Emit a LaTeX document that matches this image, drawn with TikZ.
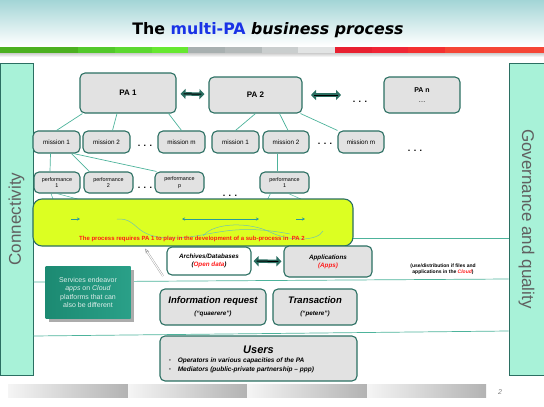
\documentclass[tikz,border=0pt]{standalone}
\usepackage{fontspec}
\setmainfont{Liberation Sans}
\newfontfamily\titlefont{DejaVu Sans}
\usetikzlibrary{arrows.meta,calc}

\definecolor{edgeteal}{HTML}{2B6F62}
\definecolor{linkteal}{HTML}{4DB39B}
\definecolor{boxgrey}{HTML}{E2E2E2}
\definecolor{mint}{HTML}{A8F2D8}
\definecolor{lime}{HTML}{DCFF22}
\definecolor{headtop}{HTML}{A3D5D6}
\definecolor{titleblue}{HTML}{1A33E6}
\definecolor{hotred}{HTML}{FF1A1A}
\definecolor{callteal}{HTML}{1C8A72}
\definecolor{callteallt}{HTML}{2AA088}
\definecolor{arrteal}{HTML}{2A9A9A}

\tikzset{
  pabox/.style = {draw=edgeteal, line width=1.1pt, rounded corners=5pt, fill=boxgrey, inner sep=1pt, align=center},
  smallbox/.style = {pabox, minimum width=47, minimum height=22, font=\fontsize{6.3}{7}\selectfont},
  perfbox/.style = {pabox, minimum height=21, font=\fontsize{5.4}{6.5}\selectfont},
  sidebar/.style = {draw=edgeteal, line width=1pt, fill=mint, text=gray!75!black, font=\fontsize{17}{20}\selectfont},
  link/.style = {linkteal, line width=0.7pt},
  dblarr/.style = {edgeteal, line width=3.5pt, {Triangle[width=10pt,length=5pt]}-{Triangle[width=10pt,length=5pt]}, shorten <=4pt, shorten >=4pt},
  dblcore/.style = {black, line width=1pt, shorten <=7pt, shorten >=7pt},
  dots/.style = {font=\bfseries\fontsize{9}{9}\selectfont}
}

\begin{document}
\begin{tikzpicture}[x=1pt, y=1pt]
    \useasboundingbox (0,0) rectangle (544,-407);

    % header
    \shade[top color=headtop, bottom color=white] (0,0) rectangle (544,-46);
    \node (title) at (268,-30) {\titlefont\bfseries\fontsize{15.8}{18}\selectfont The \textcolor{titleblue}{multi-PA} \textit{business process}};
    \foreach \xa/\xb/\col in {0/78/4CB020, 78/115/52C82A, 115/152/5CD830, 152/188/66E830,
                              188/225/A8B0B0, 225/262/B4BABA, 262/298/CACECE, 298/335/E2E4E4,
                              335/372/E82030, 372/408/F02535, 408/445/F43030, 445/544/F54535}
    {
        \definecolor{barcol}{HTML}{\col}
        \fill[barcol] (\xa,-47) rectangle (\xb,-53);
    }
    \shade[top color=gray!40, bottom color=white] (0,-53) rectangle (544,-57);

    % side bars
    \node[sidebar, rotate=90, minimum width=312, minimum height=33] (conn) at (16.5,-219) {Connectivity};
    \node[sidebar, rotate=-90, minimum width=312, minimum height=35] (gov) at (526.5,-219) {Governance and quality};

    % separators
    \coordinate (sepa) at (353,-238);
    \draw[link] (sepa) -- (sepa -| gov.south);
    \draw[link] ($(conn.south)+(0,-63)$) -- ($(gov.south)+(0,-60)$);
    \draw[link] ($(conn.south)+(0,-117)$) -- ($(gov.south)+(0,-112)$);

    % PA row
    \node[pabox, minimum width=96, minimum height=40, font=\bfseries\fontsize{8}{9}\selectfont] (pa1) at (128,-93) {PA 1};
    \node[pabox, minimum width=93, minimum height=36, font=\bfseries\fontsize{8}{9}\selectfont] (pa2) at (255.5,-95) {PA 2};
    \node[pabox, minimum width=76, minimum height=36, font=\bfseries\fontsize{7}{12}\selectfont] (pan) at (422,-95) {PA n\\[-2pt]\mdseries\dots};
    \node[dots] at (360,-102) {. . .};
    \draw[dblarr] (pa1) -- (pa2);
    \draw[dblcore] (pa1) -- (pa2);
    \coordinate (gapa) at (311,-95);
    \coordinate (gapb) at (341,-95);
    \draw[dblarr, shorten <=0pt, shorten >=0pt] (gapa) -- (gapb);
    \draw[dblcore, shorten <=3pt, shorten >=3pt] (gapa) -- (gapb);

    % missions
    \node[smallbox] (m11) at (56.5,-142) {mission 1};
    \node[smallbox] (m12) at (106.5,-142) {mission 2};
    \node[smallbox] (m1m) at (181.5,-142) {mission m};
    \node[smallbox] (m21) at (235.5,-142) {mission 1};
    \node[smallbox, minimum width=46] (m22) at (286,-142) {mission 2};
    \node[smallbox, minimum width=46] (m2m) at (361,-142) {mission m};
    \node[dots] at (145,-146) {. . .};
    \node[dots] at (325,-144) {. . .};
    \node[dots] at (415,-151) {. . .};

    \draw[link] (m11.north) -- ($(pa1.south west)+(3,0)$);
    \draw[link] ($(m12.north)+(6,0)$) -- ($(pa1.south)+(-11,0)$);
    \draw[link] (m1m.north) -- ($(pa1.south east)+(-8,0)$);
    \draw[link] (m21.north) -- (pa2.south);
    \draw[link] ($(m22.north)+(2,0)$) -- ($(pa2.south)+(24,0)$);
    \draw[link] (m2m.north west) -- ($(pa2.south east)+(-2,0)$);

    % performances
    \node[perfbox, minimum width=46] (p11) at (57,-182.5) {performance\\1};
    \node[perfbox, minimum width=49] (p12) at (108.5,-182.5) {performance\\2};
    \node[perfbox, minimum width=49] (p1p) at (179.5,-182.5) {performance\\p};
    \node[perfbox, minimum width=49] (p21) at (284.5,-182.5) {performance\\1};
    \node[dots] at (145,-188) {. . .};
    \node[dots] at (230,-196) {. . .};

    \draw[link] ($(m11.south)+(-6,0)$) -- ($(p11.north)+(-7,0)$);
    \draw[link] ($(m11.south)+(15,0)$) -- ($(p12.north west)+(6,0)$);
    \draw[link] ($(m11.south)+(17,0)$) -- ($(p1p.north west)+(2,0)$);
    \draw[link] ($(m22.south)+(-9,0)$) -- ($(p21.north)+(-7.5,0)$);
    \draw[link, line width=0.5pt] ($(p11.south)+(-6,0)$) -- ++(3,-8);
    \draw[link, line width=0.5pt] ($(p11.south)+(0,0)$) -- ++(30,-8);
    \draw[link, line width=0.5pt] ($(p21.south)+(-14,0)$) -- ++(-4,-8);
    \draw[link, line width=0.5pt] ($(p21.south)+(4,0)$) -- ++(18,-8);

    % process box
    \node[pabox, fill=lime, rounded corners=9pt, minimum width=320, minimum height=47] (proc) at (193,-222.5) {};
    \draw[arrteal, line width=0.6pt, -{Stealth[length=3pt,width=3pt]}] (71,-219) -- (80,-219);
    \draw[arrteal, line width=0.6pt, {Stealth[length=3pt,width=3pt]}-{Stealth[length=3pt,width=3pt]}] (182,-219) -- (259,-219);
    \draw[arrteal, line width=0.6pt, -{Stealth[length=3pt,width=3pt]}] (296,-219) -- (305,-219);
    \draw[linkteal!80, line width=0.5pt] (117,-219) .. controls (140,-218) and (132,-238) .. (172,-238)
        .. controls (210,-238) and (228,-222) .. (290,-234);
    \draw[linkteal!80, line width=0.5pt] (203,-236) .. controls (214,-222) and (250,-222) .. (270,-232)
        .. controls (290,-242) and (318,-241) .. (323,-231);
    \node[text=hotred, font=\bfseries\fontsize{6}{7}\selectfont] (proctext) at (192,-239)
        {The process requires PA 1 to play in the development of a sub-process in\ \ PA 2};

    % archives and applications
    \node[pabox, fill=white, minimum width=84, minimum height=28, font=\bfseries\itshape\fontsize{6.3}{8}\selectfont] (arch) at (209,-261)
        {Archives/Databases\\(\textcolor{hotred}{Open data})};
    \node[pabox, minimum width=88, minimum height=31, font=\bfseries\itshape\fontsize{6.3}{8}\selectfont] (apps) at (328,-261.5)
        {Applications\\\textcolor{hotred}{(Apps)}};
    \draw[dblarr, shorten <=2pt, shorten >=2pt] (arch) -- (apps);
    \draw[dblcore, shorten <=5pt, shorten >=5pt] (arch) -- (apps);
    \node[font=\bfseries\fontsize{5}{6}\selectfont, align=center] (cloud) at (443,-269)
        {(use/distribution if files and\\applications in the \textcolor{hotred}{\itshape Cloud})};

    % callout
    \fill[gray!65] (49,-270) rectangle (134,-322);
    \node[draw=none, left color=callteal, right color=callteallt,
          minimum width=85, minimum height=52, text=white!85!callteal, align=center, font=\fontsize{7}{8.5}\selectfont] (serv) at (88,-292.5)
        {Services endeavor\\\textit{apps} on \textit{Cloud}\\platforms that can\\also be different};
    \coordinate (tipa) at (163,-276);
    \draw[gray!80, double=white, double distance=1pt, line width=0.4pt, -{Stealth[open,length=5pt,width=4pt]}] (tipa) -- ($(proc.south)+(-48,-2)$);

    % request and transaction
    \node[pabox, minimum width=106, minimum height=36, font=\bfseries\itshape] (req) at (213,-307)
        {{\fontsize{9.5}{11}\selectfont Information request}\\{\fontsize{6.3}{8}\selectfont(“quaerere”)}};
    \node[pabox, minimum width=84, minimum height=36, font=\bfseries\itshape] (trans) at (315,-307)
        {{\fontsize{9.5}{11}\selectfont Transaction}\\{\fontsize{6.3}{8}\selectfont(“petere”)}};

    % users
    \node[pabox, minimum width=197, minimum height=45] (users) at (258.5,-358.5) {};
    \node[font=\bfseries\itshape\fontsize{11}{12}\selectfont] (usrtitle) at ($(users.north)+(0,-14)$) {Users};
    \node[anchor=west, align=left, font=\bfseries\itshape\fontsize{6.5}{9}\selectfont] (usrlist) at ($(users.west)+(6,-7)$)
        {\textcolor{gray}{\upshape\textbullet}\quad Operators in various capacities of the PA\\
         \textcolor{gray}{\upshape\textbullet}\quad Mediators (public-private partnership – ppp)};

    % footer
    \foreach \xa/\xb in {8/128, 128/247, 247/367, 367/486}
        \shade[left color=gray!8, right color=gray!60] (\xa,-384) rectangle (\xb,-397);
    \node[text=gray, font=\itshape\fontsize{7}{8}\selectfont] (page) at (500,-392) {2};
\end{tikzpicture}
\end{document}
